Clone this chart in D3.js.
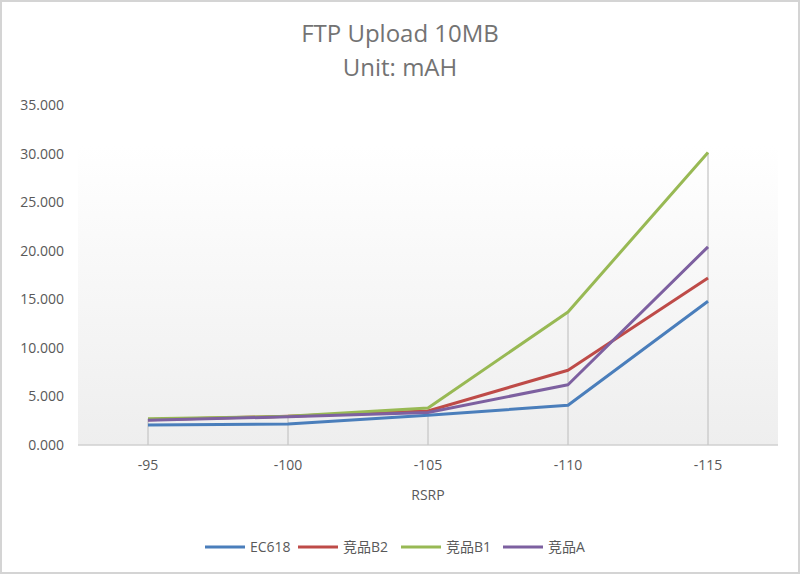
<!DOCTYPE html>
<html><head><meta charset="utf-8">
<script src="https://cdn.jsdelivr.net/npm/d3@7"></script>
<style>body{margin:0;background:#fff}svg{display:block}</style>
</head><body>
<script>
const categories = ["-95","-100","-105","-110","-115"];
const seriesNames = ["EC618","竞品B2","竞品B1","竞品A"];
const ec618 = [2.05, 2.15, 3.05, 4.1, 14.8];
const b2 = [2.6, 2.95, 3.5, 7.7, 17.2];
const b1 = [2.7, 2.95, 3.8, 13.7, 30.1];
const compA = [2.55, 2.9, 3.35, 6.2, 20.4];
const yTicks = [0,5,10,15,20,25,30,35];
const colors = ["#4a7ebb","#be4b48","#98b954","#7d60a0"];
const seriesVals = [ec618, b2, b1, compA];

const W = 800, H = 575;
const svg = d3.select("body").append("svg").attr("width", W).attr("height", H);
const font = "'Open Sans', 'Noto Sans CJK SC', sans-serif";

// frame
svg.append("rect").attr("x",1).attr("y",1).attr("width",W-2).attr("height",H-3)
  .attr("fill","#fff").attr("stroke","#d4d4d4").attr("stroke-width",2);

const plot = {l:78, r:778, t:105, b:445};
const x = d3.scaleBand().domain(categories).range([plot.l, plot.r]);
const y = d3.scaleLinear().domain([0,35]).range([plot.b, plot.t]);

const defs = svg.append("defs");
const grad = defs.append("linearGradient").attr("id","bg").attr("x1",0).attr("y1",0).attr("x2",0).attr("y2",1);
grad.append("stop").attr("offset","0%").attr("stop-color","#ffffff");
grad.append("stop").attr("offset","100%").attr("stop-color","#eeeeee");
svg.append("rect").attr("x",plot.l).attr("y",plot.t+40).attr("width",plot.r-plot.l).attr("height",plot.b-plot.t-40)
  .attr("fill","url(#bg)");

// titles
svg.append("text").attr("x",400).attr("y",42).attr("text-anchor","middle")
  .attr("font-family",font).attr("font-size",24).attr("fill","#737373").text("FTP Upload 10MB");
svg.append("text").attr("x",400).attr("y",76).attr("text-anchor","middle")
  .attr("font-family",font).attr("font-size",24).attr("fill","#737373").text("Unit: mAH");

// y axis
const yAxis = d3.axisLeft(y).tickValues(yTicks).tickFormat(d3.format(".3f")).tickSize(0).tickPadding(0);
const gy = svg.append("g").attr("transform",`translate(64,0)`).call(yAxis);
gy.select(".domain").remove();
gy.selectAll("text").attr("font-family",font).attr("font-size",14).attr("fill","#595959");

// x axis
const xAxis = d3.axisBottom(x).tickSize(0).tickPadding(0);
const gx = svg.append("g").attr("transform",`translate(0,${plot.b+15})`).call(xAxis);
gx.select(".domain").remove();
gx.selectAll("text").attr("font-family",font).attr("font-size",14).attr("fill","#595959");

svg.append("line").attr("x1",plot.l).attr("x2",plot.r).attr("y1",plot.b).attr("y2",plot.b)
  .attr("stroke","#d0d0d0").attr("stroke-width",1.5);

svg.append("text").attr("x",(plot.l+plot.r)/2).attr("y",plot.b+55).attr("text-anchor","middle")
  .attr("font-family",font).attr("font-size",14).attr("fill","#595959").text("RSRP");

// drop lines
const cx = c => x(c) + x.bandwidth()/2;
categories.forEach((c,i) => {
  const mx = d3.max(seriesVals, s => s[i]);
  svg.append("line").attr("x1",cx(c)).attr("x2",cx(c)).attr("y1",y(mx)).attr("y2",plot.b)
    .attr("stroke","#c8c8c8").attr("stroke-width",1.3);
});

// lines
const line = d3.line().x((d,i) => cx(categories[i])).y(d => y(d));
seriesVals.forEach((s,k) => {
  svg.append("path").datum(s).attr("d",line).attr("fill","none")
    .attr("stroke",colors[k]).attr("stroke-width",3).attr("stroke-linejoin","round");
});

// legend
const legX = [205, 298, 401, 503];
const lg = svg.append("g");
seriesNames.forEach((n,k) => {
  lg.append("line").attr("x1",legX[k]).attr("x2",legX[k]+40).attr("y1",547).attr("y2",547)
    .attr("stroke",colors[k]).attr("stroke-width",3);
  lg.append("text").attr("x",legX[k]+45).attr("y",552).attr("font-family",font)
    .attr("font-size",14).attr("fill","#595959").text(n);
});
</script>
</body></html>
